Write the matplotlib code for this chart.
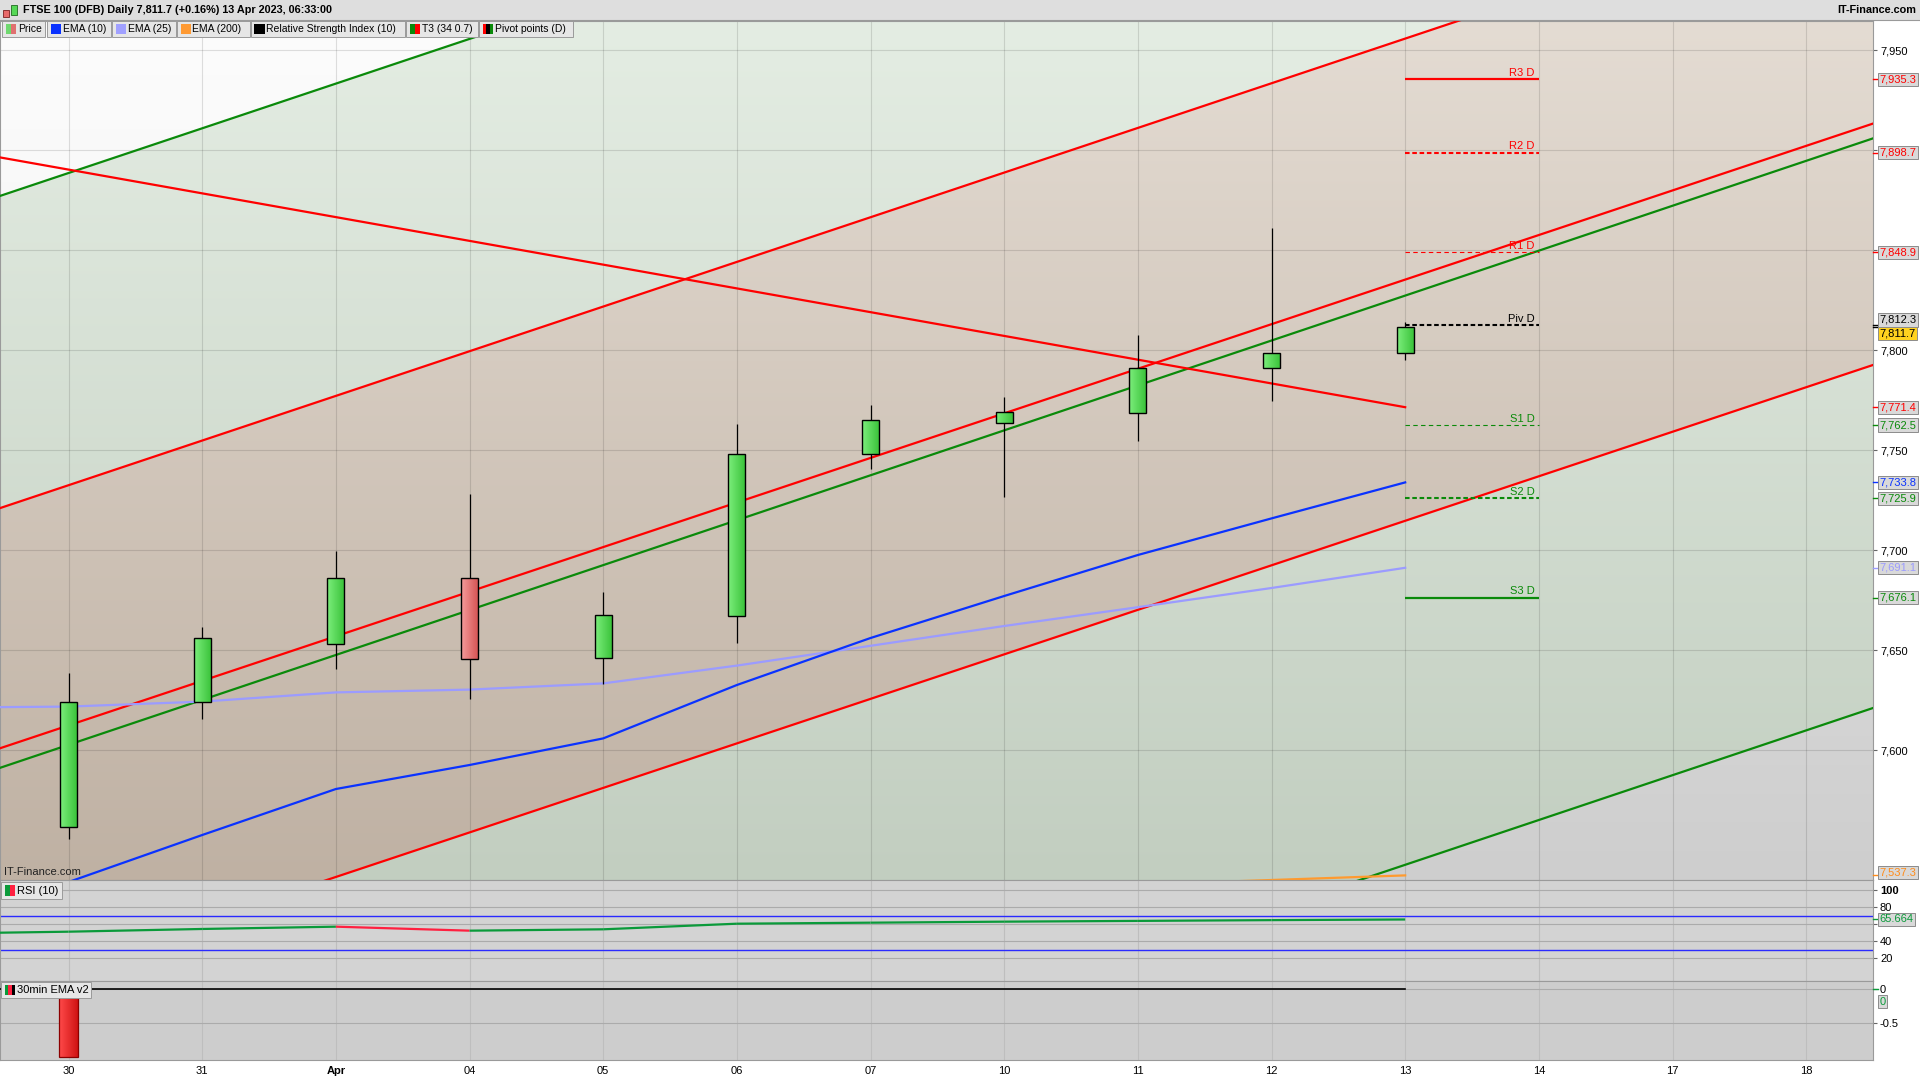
import numpy as np
import matplotlib
matplotlib.use('Agg')
import matplotlib.pyplot as plt
from matplotlib.patches import Rectangle
from matplotlib.colors import LinearSegmentedColormap
from matplotlib.transforms import blended_transform_factory

plt.rcParams['font.family'] = ['Liberation Sans', 'DejaVu Sans']

# ---- data ----
date_labels = ['30', '31', 'Apr', '04', '05', '06', '07', '10', '11', '12', '13', '14', '17', '18']

opens = [7561.3, 7623.8, 7652.8, 7685.8, 7645.8, 7666.8, 7747.8, 7763.3, 7768.3, 7790.8, 7798.3]
highs = [7638.5, 7661.5, 7699.5, 7728.0, 7679.0, 7763.2, 7772.5, 7776.5, 7807.5, 7861.0, 7813.8]
lows = [7555.5, 7615.5, 7640.7, 7625.5, 7633.0, 7653.7, 7740.3, 7726.7, 7754.7, 7774.7, 7795.2]
closes = [7623.8, 7655.8, 7685.8, 7645.3, 7667.3, 7747.8, 7764.8, 7768.8, 7790.8, 7798.3, 7811.7]

# moving averages start one session earlier (29 Mar) so they reach the left edge
ema10 = [7512.0, 7534.0, 7557.5, 7580.5, 7592.5, 7605.8, 7632.5, 7656.0, 7677.0, 7697.5, 7715.8, 7733.8]
ema25 = [7621.2, 7621.7, 7624.2, 7628.8, 7630.2, 7633.3, 7642.2, 7652.1, 7662.0, 7671.4, 7681.0, 7691.1]
ema200 = [7514.5, 7516.8, 7519.1, 7521.4, 7523.7, 7526.0, 7528.2, 7530.5, 7532.7, 7535.0, 7537.3]

rsi = [49.0, 51.3, 54.5, 57.2, 52.5, 54.1, 60.7, 61.9, 63.1, 64.0, 64.9, 65.664]

ema_v2_hist = [-1.0, 0, 0, 0, 0, 0, 0, 0, 0, 0, 0]
ema_v2_signal = [0.0] * 12

piv_names = ['R3 D', 'R2 D', 'R1 D', 'Piv D', 'S1 D', 'S2 D', 'S3 D']
piv_values = [7935.3, 7898.7, 7848.9, 7812.3, 7762.5, 7725.9, 7676.1]

# trend lines as (session index, price) anchors
line_f = [(0, 7888.5), (10, 8112.0)]
line_a = [(0, 7732.4), (10, 7955.7)]
line_b = [(0, 7612.3), (10, 7835.2)]
line_c = [(0, 7602.6), (10, 7827.2)]
line_d = [(0, 7492.0), (10, 7714.6)]
line_e = [(10, 7542.6), (13, 7609.8)]
line_g = [(0, 7890.2), (10, 7771.4)]

# ---- layout ----
W_PX, H_PX = 1920, 1080
XLIM = (-0.513, 13.5)
YLIM = (7535.0, 7964.5)


def fx(px):
    return px / W_PX


def fy(py):
    return 1 - py / H_PX


def line_at(anchors, x):
    (x0, y0), (x1, y1) = anchors
    return y0 + (y1 - y0) * (np.asarray(x) - x0) / (x1 - x0)


fig = plt.figure(figsize=(19.2, 10.8), dpi=100, facecolor='white')
ax_w = 1873 / W_PX
ax = fig.add_axes([0, fy(880), ax_w, (880 - 21) / H_PX])
ax2 = fig.add_axes([0, fy(981), ax_w, (981 - 880) / H_PX], sharex=ax)
ax3 = fig.add_axes([0, fy(1060), ax_w, (1060 - 981) / H_PX], sharex=ax)

idx = np.arange(len(closes))
idx_ext = np.arange(-1, len(closes))

# ---- background zones of the channel ----
H, W = 860, 1873
gx = np.linspace(XLIM[0], XLIM[1], W)
gy = np.linspace(YLIM[1], YLIM[0], H)
X, Y = np.meshgrid(gx, gy)
t = np.linspace(0, 1, H)[:, None, None]
zone = np.full(X.shape, 4)
zone[Y > line_at(line_e, X)] = 3
zone[Y > line_at(line_d, X)] = 2
zone[Y > line_at(line_a, X)] = 1
zone[Y > line_at(line_f, X)] = 0
top_cols = np.array([[252, 252, 252], [228, 237, 227], [228, 220, 211], [228, 237, 227], [236, 236, 236]]) / 255
bot_cols = np.array([[236, 236, 236], [194, 206, 192], [191, 177, 163], [194, 206, 192], [206, 206, 206]]) / 255
img = top_cols[zone] * (1 - t) + bot_cols[zone] * t
ax.imshow(img, extent=[XLIM[0], XLIM[1], YLIM[0], YLIM[1]], origin='upper',
          aspect='auto', zorder=0, interpolation='bilinear')

# ---- trend lines ----
xs = np.array([XLIM[0] - 1, XLIM[1] + 1])
for anchors, col in [(line_f, '#0a8a0a'), (line_a, '#ff0000'), (line_b, '#ff0000'),
                     (line_c, '#0a8a0a'), (line_d, '#ff0000'), (line_e, '#0a8a0a')]:
    ax.plot(xs, line_at(anchors, xs), color=col, lw=1.6, zorder=3)
xg = np.array([XLIM[0] - 1, line_g[1][0]])
ax.plot(xg, line_at(line_g, xg), color='#ff0000', lw=1.6, zorder=3)

# ---- moving averages ----
ax.plot(idx, ema200, color='#ff9a2e', lw=1.6, zorder=3.5)
ax.plot(idx_ext, ema25, color='#9b9bff', lw=1.6, zorder=3.5)
ax.plot(idx_ext, ema10, color='#0a32ff', lw=1.6, zorder=3.5)

# ---- pivot levels ----
piv_cols = ['#ff0000', '#ff0000', '#ff0000', '#000000', '#0a8a0a', '#0a8a0a', '#0a8a0a']
piv_styles = ['-', (0, (2.2, 1.3)), (0, (4, 3)), (0, (2.2, 1.3)), (0, (4, 3)), (0, (2.2, 1.3)), '-']
piv_lw = [1.6, 1.5, 0.8, 1.5, 0.8, 1.5, 1.6]
last = idx[-1]
for name, val, col, ls, lw in zip(piv_names, piv_values, piv_cols, piv_styles, piv_lw):
    ax.hlines(val, last, last + 1, colors=col, linestyles=ls, lw=lw, zorder=4)
    ax.annotate(name, xy=(last + 0.97, val), xytext=(0, 1), textcoords='offset points',
                ha='right', va='bottom', fontsize=8, color=col, zorder=4)

# ---- candles ----
cw = 0.127
green_cm = LinearSegmentedColormap.from_list('g', ['#7cee7c', '#3cc43c'])
red_cm = LinearSegmentedColormap.from_list('r', ['#f59c9c', '#d65656'])
grad = np.linspace(0, 1, 32)[None, :]
ax.vlines(idx, lows, highs, color='black', lw=0.9, zorder=5)
for i, o, c in zip(idx, opens, closes):
    lo, hi = min(o, c), max(o, c)
    rect = Rectangle((i - cw / 2, lo), cw, hi - lo, fc='none', ec='black', lw=1.0, zorder=7)
    ax.add_patch(rect)
    im = ax.imshow(grad, cmap=green_cm if c >= o else red_cm,
                   extent=[i - cw / 2, i + cw / 2, lo, hi], aspect='auto', zorder=6)
    im.set_clip_path(rect)

ax.text(0.002, 0.004, 'IT-Finance.com', transform=ax.transAxes, fontsize=8,
        color='#222222', ha='left', va='bottom', zorder=8)

# ---- price axis ----
ax.set_xlim(*XLIM)
ax.set_ylim(*YLIM)
ax.set_xticks(range(len(date_labels)))
ax.tick_params(axis='x', length=0, labelbottom=False)
yt = np.arange(7600, 7951, 50)
ax.set_yticks(yt)
# 7,850 and 7,900 sit under the R1 / R2 value boxes
ax.set_yticklabels(['' if v in (7850, 7900) else f'{v:,.0f}' for v in yt])
ax.yaxis.tick_right()
ax.tick_params(axis='y', length=3, color='#666666', labelsize=8, pad=2)
ax.grid(True, color='black', alpha=0.12, lw=0.8)
ax.set_axisbelow(True)
for sp in ax.spines.values():
    sp.set_color('#9a9a9a')
    sp.set_linewidth(0.8)


def value_box(a, y, text, color, fc='#d9d9d9', dy=0):
    tr = blended_transform_factory(a.transAxes, a.transData)
    a.plot([1.0, 1.0 + 5 / 1873], [y, y], transform=tr, color=color, lw=1,
           clip_on=False, zorder=20)
    a.annotate(text, xy=(1.0, y), xycoords=tr, xytext=(4.5, dy), textcoords='offset points',
               ha='left', va='center', fontsize=8, color=color, annotation_clip=False,
               zorder=21, bbox=dict(boxstyle='square,pad=0.15', fc=fc, ec='#8c8c8c', lw=0.7))


for val, col in zip(piv_values, piv_cols):
    if col == '#000000':
        value_box(ax, val, f'{val:,.1f}', col, dy=4)
    else:
        value_box(ax, val, f'{val:,.1f}', col)
value_box(ax, closes[-1], f'{closes[-1]:,.1f}', '#000000', fc='#ffd21f', dy=-5)
value_box(ax, line_g[1][1], f'{line_g[1][1]:,.1f}', '#ff0000')
value_box(ax, ema10[-1], f'{ema10[-1]:,.1f}', '#0a32ff')
value_box(ax, ema25[-1], f'{ema25[-1]:,.1f}', '#9b9bff')
value_box(ax, ema200[-1], f'{ema200[-1]:,.1f}', '#ff8c1a', dy=2)

# ---- RSI panel ----
ax2.set_facecolor('#d3d3d3')
ax2.set_ylim(-6.7, 112.1)
ax2.axhline(70, color='#2a2aff', lw=1.0, zorder=2)
ax2.axhline(30, color='#2a2aff', lw=1.0, zorder=2)
for k in range(len(rsi) - 1):
    col = '#0a9a3a' if rsi[k + 1] >= rsi[k] else '#ff2040'
    ax2.plot(idx_ext[k:k + 2], rsi[k:k + 2], color=col, lw=1.6, zorder=3,
             solid_capstyle='butt')
ax2.set_yticks([20, 40, 60, 80, 100])
ax2.set_yticklabels(['20', '40', '', '80', '100'])
ax2.yaxis.tick_right()
ax2.tick_params(axis='y', length=3, color='#666666', labelsize=8, pad=2)
ax2.get_yticklabels()[-1].set_fontweight('bold')
ax2.tick_params(axis='x', length=0, labelbottom=False)
ax2.xaxis.grid(True, color='#bebebe', lw=0.8)
ax2.yaxis.grid(True, color='#ababab', lw=0.8)
ax2.set_axisbelow(True)
for sp in ax2.spines.values():
    sp.set_color('#9a9a9a')
    sp.set_linewidth(0.8)
value_box(ax2, rsi[-1], f'{rsi[-1]:.3f}', '#0a9a3a')

# ---- 30min EMA v2 panel ----
ax3.set_facecolor('#cdcdcd')
ax3.plot(idx_ext, ema_v2_signal, color='black', lw=1.2, zorder=3)
bar_cm = LinearSegmentedColormap.from_list('b', ['#ff4a4a', '#d01414'])
bw = 0.14
for i, v in zip(idx, ema_v2_hist):
    if v == 0:
        continue
    rect = Rectangle((i - bw / 2, v), bw, -v, fc='none', ec='#8b0000', lw=0.9, zorder=5)
    ax3.add_patch(rect)
    im = ax3.imshow(grad, cmap=bar_cm, extent=[i - bw / 2, i + bw / 2, v, 0],
                    aspect='auto', zorder=4)
    im.set_clip_path(rect)
ax3.set_ylim(-1.044, 0.118)
ax3.set_xlim(*XLIM)
ax3.set_yticks([-0.5, 0])
ax3.set_yticklabels(['-0.5', '0'])
ax3.yaxis.tick_right()
ax3.tick_params(axis='y', length=3, color='#666666', labelsize=8, pad=2)
ax3.set_xticks(range(len(date_labels)))
ax3.set_xticklabels(date_labels)
ax3.tick_params(axis='x', length=0, labelsize=8, pad=4)
for lbl in ax3.get_xticklabels():
    if lbl.get_text() == 'Apr':
        lbl.set_fontweight('bold')
ax3.xaxis.grid(True, color='#bebebe', lw=0.8)
ax3.yaxis.grid(True, color='#ababab', lw=0.8)
ax3.set_axisbelow(True)
for sp in ax3.spines.values():
    sp.set_color('#9a9a9a')
    sp.set_linewidth(0.8)
value_box(ax3, ema_v2_hist[-1], '0', '#0a9a3a', dy=-9)

# ---- header bar ----
fig.add_artist(Rectangle((0, fy(20)), 1, 20 / H_PX, transform=fig.transFigure,
                         fc='#dedede', ec='none', zorder=10))
fig.add_artist(plt.Line2D([0, 1], [fy(20), fy(20)], transform=fig.transFigure,
                          color='#9a9a9a', lw=0.8, zorder=11))
fig.add_artist(Rectangle((fx(3), fy(17)), fx(6), 7 / H_PX, transform=fig.transFigure,
                         fc='#e86a6a', ec='#7a2020', lw=0.6, zorder=11))
fig.add_artist(Rectangle((fx(11), fy(15)), fx(6), 10 / H_PX, transform=fig.transFigure,
                         fc='#55d855', ec='#206a20', lw=0.6, zorder=11))
fig.text(fx(23), fy(10), 'FTSE 100 (DFB) Daily 7,811.7 (+0.16%) 13 Apr 2023, 06:33:00',
         fontsize=7.8, fontweight='bold', va='center', ha='left', zorder=12)
fig.text(fx(1916), fy(10), 'IT-Finance.com', fontsize=7.8, fontweight='bold',
         va='center', ha='right', zorder=12)


# ---- legend boxes ----
def legend_box(left, right, top, bottom, text, swatch, size=7.5):
    fig.add_artist(Rectangle((fx(left), fy(bottom)), fx(right - left), (bottom - top) / H_PX,
                             transform=fig.transFigure, fc='#e6e6e6', ec='#9a9a9a',
                             lw=0.7, zorder=10))
    sw = 10 / len(swatch)
    for k, c in enumerate(swatch):
        fig.add_artist(Rectangle((fx(left + 4 + k * sw), fy(bottom - 3)), fx(sw),
                                 (bottom - top - 6) / H_PX, transform=fig.transFigure,
                                 fc=c, ec='none', zorder=11))
    fig.text(fx(left + 16), fy((top + bottom) / 2), text, fontsize=size, va='center',
             ha='left', zorder=12)


legend_items = [
    (2, 45, 'Price', ['#6fd86f', '#e07070']),
    (46.5, 111, 'EMA (10)', ['#0a32ff']),
    (112, 175.5, 'EMA (25)', ['#a0a0ff']),
    (176.5, 249.5, 'EMA (200)', ['#ff9a33']),
    (250.5, 404.5, 'Relative Strength Index (10)', ['#000000']),
    (405.5, 478, 'T3 (34 0.7)', ['#0a8a0a', '#ff0000']),
    (479, 573, 'Pivot points (D)', ['#ff0000', '#000000', '#0a8a0a']),
]
for l, r, txt, sw in legend_items:
    legend_box(l, r, 21, 37, txt, sw)

legend_box(1, 62, 882, 899, 'RSI (10)', ['#0a9a3a', '#ff2040'], size=8)
legend_box(1, 91, 982, 998, '30min EMA v2', ['#0a9a3a', '#ff2040', '#000000'], size=8)

fig.savefig('out.png', dpi=100)
